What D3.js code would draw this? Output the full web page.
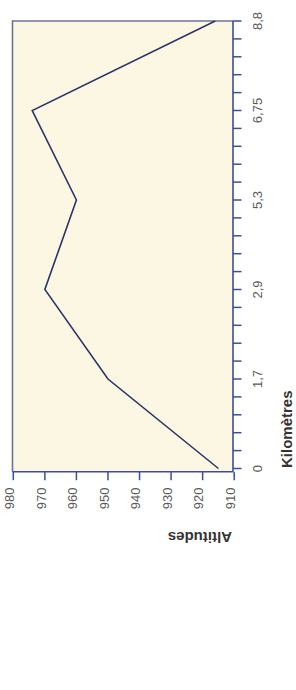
<!DOCTYPE html>
<html>
<head>
<meta charset="utf-8">
<script src="https://cdn.jsdelivr.net/npm/d3@7"></script>
<style>
  html, body { margin: 0; padding: 0; background: #ffffff; }
  svg { display: block; }
</style>
</head>
<body>
<script>
// ---- data ----
const kilometres = ["0", "1,7", "2,9", "5,3", "6,75", "8,8"];
const altitudes = [915, 950, 970, 960, 974, 916];
const altitudeTicks = [980, 970, 960, 950, 940, 930, 920, 910];
const altitudeDomain = [910, 980];
const minorPerInterval = 5;
const xTitle = "Kilomètres";
const yTitle = "Altitudes";

// ---- layout (chart drawn upright, then turned 90° counter-clockwise) ----
const W = 296, H = 690;           // page size
const plot = { left: 218.3, right: 669, top: 12.5, bottom: 233 };

const svg = d3.select("body").append("svg")
  .attr("width", W).attr("height", H);

const g = svg.append("g")
  .attr("transform", `translate(0,${H}) rotate(-90)`);

const x = d3.scalePoint().domain(kilometres).range([221.5, 669]);
const y = d3.scaleLinear().domain(altitudeDomain).range([234.2, 13.3]);

// background
g.append("rect")
  .attr("x", plot.left).attr("y", plot.top)
  .attr("width", plot.right - plot.left).attr("height", plot.bottom - plot.top)
  .attr("fill", "#fcf7e2");

// frame top & right
g.append("path")
  .attr("d", `M${plot.left},${plot.top}H${plot.right}V${plot.bottom}`)
  .attr("fill", "none").attr("stroke", "#6c7397").attr("stroke-width", 1.6);

// x axis (km) with minor ticks
const step = x.step();
const tickPos = [];
kilometres.forEach((k, i) => {
  const p = x(k);
  tickPos.push(p);
  if (i < kilometres.length - 1) {
    for (let j = 1; j < minorPerInterval; j++) tickPos.push(p + step * j / minorPerInterval);
  }
});
const axisColor = "#3d4c9c";
g.append("line")
  .attr("x1", plot.left).attr("x2", plot.right)
  .attr("y1", plot.bottom).attr("y2", plot.bottom)
  .attr("stroke", axisColor).attr("stroke-width", 1.6);
g.selectAll(".xt").data(tickPos).join("line")
  .attr("x1", d => d).attr("x2", d => d)
  .attr("y1", plot.bottom).attr("y2", plot.bottom + 8.5)
  .attr("stroke", axisColor).attr("stroke-width", 1.5);
g.selectAll(".xl").data(kilometres).join("text")
  .attr("x", d => x(d)).attr("y", 262)
  .attr("text-anchor", "middle")
  .attr("font-family", "Liberation Sans, Arial, sans-serif")
  .attr("font-size", 13).attr("fill", "#5a5a5a")
  .text(d => d);

// y axis (altitudes)
g.append("line")
  .attr("x1", plot.left).attr("x2", plot.left)
  .attr("y1", plot.top).attr("y2", plot.bottom)
  .attr("stroke", axisColor).attr("stroke-width", 1.6);
g.selectAll(".yt").data(altitudeTicks).join("line")
  .attr("x1", plot.left).attr("x2", plot.left - 8.5)
  .attr("y1", d => y(d)).attr("y2", d => y(d))
  .attr("stroke", axisColor).attr("stroke-width", 1.5);
g.selectAll(".yl").data(altitudeTicks).join("text")
  .attr("x", 202.5).attr("y", d => y(d)).attr("dy", "0.05em")
  .attr("text-anchor", "end")
  .attr("font-family", "Liberation Sans, Arial, sans-serif")
  .attr("font-size", 13).attr("fill", "#5a5a5a")
  .text(d => d);

// line
const line = d3.line()
  .x((d, i) => x(kilometres[i]))
  .y(d => y(d));
g.append("path")
  .datum(altitudes)
  .attr("d", line)
  .attr("fill", "none")
  .attr("stroke", "#2c3468")
  .attr("stroke-width", 1.6)
  .attr("stroke-linejoin", "miter");

// titles
g.append("text")
  .attr("x", 222).attr("y", 292)
  .attr("font-family", "Liberation Sans, Arial, sans-serif")
  .attr("font-size", 15).attr("font-weight", "bold").attr("fill", "#333")
  .text(xTitle);
g.append("text")
  .attr("transform", "translate(158,232) rotate(-90)")
  .attr("font-family", "Liberation Sans, Arial, sans-serif")
  .attr("font-size", 15).attr("font-weight", "bold").attr("fill", "#333")
  .text(yTitle);
</script>
</body>
</html>
